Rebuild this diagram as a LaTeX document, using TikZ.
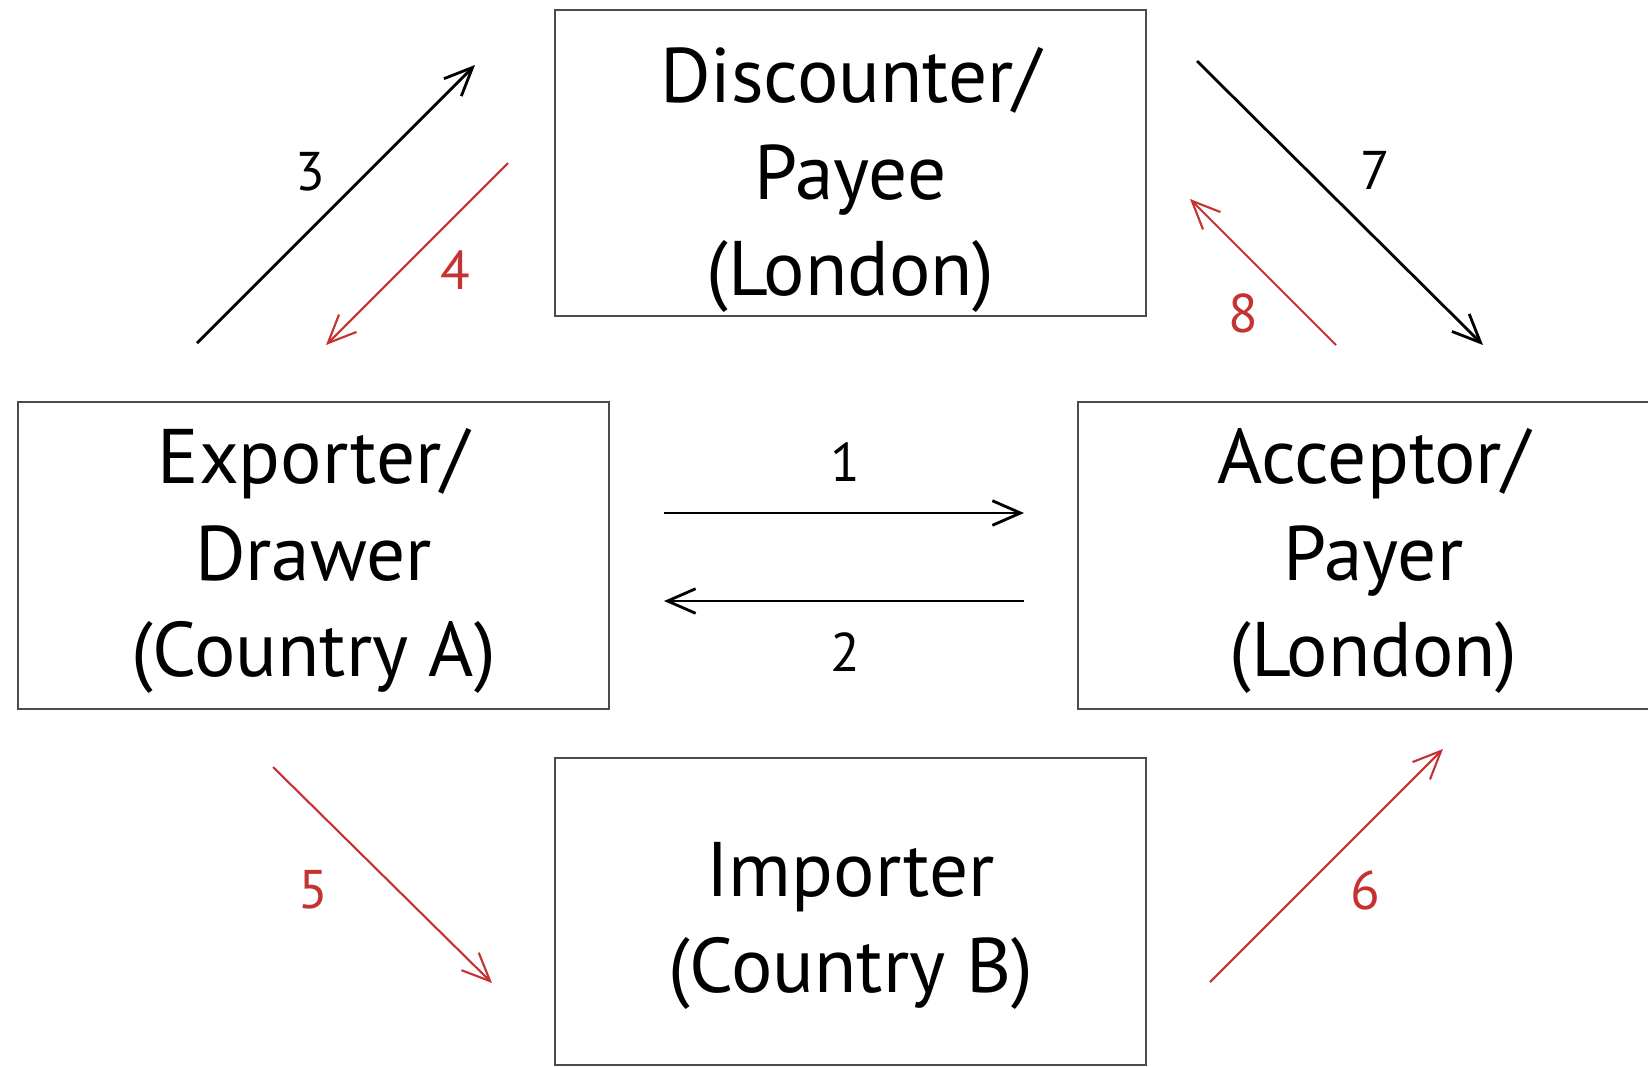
\documentclass[tikz,border=0pt]{standalone}
\usepackage{fontspec}
\setmainfont{PT Sans}
\usepackage{xcolor}
\usetikzlibrary{arrows.meta}

\definecolor{billred}{RGB}{196,50,50}

\begin{document}
\begin{tikzpicture}[
  x=0.01cm, y=-0.01cm,
  party/.style={draw=black!70, line width=0.6pt, inner sep=0pt,
                minimum width=5.91cm, minimum height=3.06cm,
                align=center, font=\fontsize{22}{27.5}\selectfont},
  numlbl/.style={font=\fontsize{15.5}{18}\selectfont},
  flow/.style={line width=0.8pt, -{Straight Barb[length=8pt,width=7pt]}},
  backflow/.style={flow, billred, line width=0.6pt}
]
% 1 unit = 1 px of a 1648 x 1066 frame, y grows downwards
\useasboundingbox (0,0) rectangle (1648,1066);
\clip (0,0) rectangle (1648,1066);

%% --- Parties --------------------------------------------------
\node[party] (disc) at (850.5,163)  {};
\node[party] (expo) at (313.5,555.5) {};
\node[party] (acce) at (1373.5,555.5) {};
\node[party] (impo) at (850.5,911.5) {};

% party names, set a little below the box centres
\node[party, draw=none] (discname) at (850.5,180)  {Discounter/\\Payee\\(London)};
\node[party, draw=none] (exponame) at (313.5,561) {Exporter/\\Drawer\\(Country A)};
\node[party, draw=none] (accename) at (1373.5,561) {Acceptor/\\Payer\\(London)};
\node[party, draw=none] (imponame) at (850.5,926) {Importer\\(Country B)};

%% --- Arrow end points -----------------------------------------
\coordinate (f1a) at (664,513);  \coordinate (f1b) at (1024,513);
\coordinate (f2a) at (1024,601); \coordinate (f2b) at (664,601);
\coordinate (f3a) at (197,343);  \coordinate (f3b) at (475,65);
\coordinate (f4a) at (508,163);  \coordinate (f4b) at (326,345);
\coordinate (f5a) at (273,767);  \coordinate (f5b) at (492,983);
\coordinate (f6a) at (1210,982); \coordinate (f6b) at (1443,749);
\coordinate (f7a) at (1197,61);  \coordinate (f7b) at (1483,345);
\coordinate (f8a) at (1336,345); \coordinate (f8b) at (1190,199);

%% --- Flows (black: bill, red: money/goods) --------------------
\draw[flow]     (f1a) -- (f1b);
\draw[flow]     (f2a) -- (f2b);
\draw[flow]     (f3a) -- (f3b);
\draw[backflow] (f4a) -- (f4b);
\draw[backflow] (f5a) -- (f5b);
\draw[backflow] (f6a) -- (f6b);
\draw[flow]     (f7a) -- (f7b);
\draw[backflow] (f8a) -- (f8b);

%% --- Step numbers ---------------------------------------------
\node[numlbl]          (n1) at (845,462) {1};
\node[numlbl]          (n2) at (845,652) {2};
\node[numlbl]          (n3) at (310,172) {3};
\node[numlbl, billred] (n4) at (455,270) {4};
\node[numlbl, billred] (n5) at (313,890) {5};
\node[numlbl, billred] (n6) at (1365,890) {6};
\node[numlbl]          (n7) at (1375,170) {7};
\node[numlbl, billred] (n8) at (1243,313) {8};

\end{tikzpicture}
\end{document}
